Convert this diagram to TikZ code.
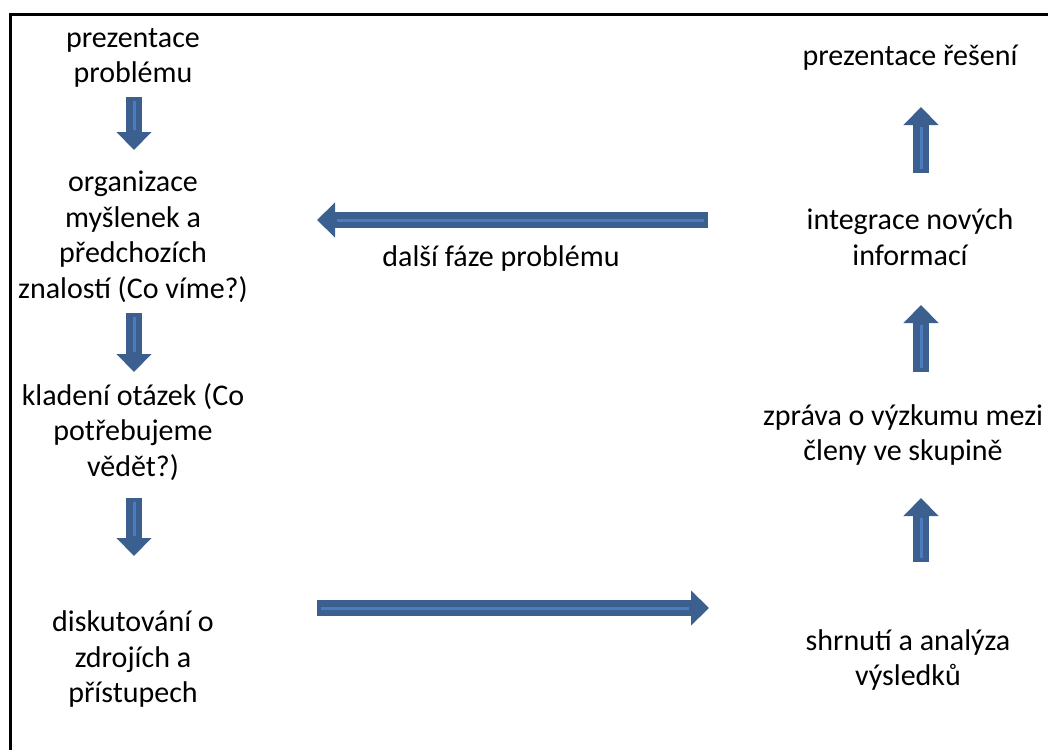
\documentclass[tikz,border=0pt]{standalone}
\usepackage{fontspec}
\setmainfont{Carlito}
\usetikzlibrary{arrows.meta,calc,positioning}
\definecolor{arrowBlue}{HTML}{3B5F8E}
\definecolor{arrowLight}{HTML}{4C7CBD}

\begin{document}
\begin{tikzpicture}[
  x=1pt, y=-1pt,
  line cap=butt,
  every node/.style={font=\fontsize{30}{35.5}\selectfont},
  txt/.style={align=center, inner sep=0pt},
  blockarrow/.style={draw=arrowBlue, line width=16pt, -{Triangle[width=34pt,length=18pt]}},
  % thin lighter stripe along the middle of the shaft
  arrowshine/.style={draw=arrowLight, line width=3pt, shorten <=4pt, shorten >=20pt},
  frame/.style={line width=3pt}
]
  \useasboundingbox (0,0) rectangle (1048,749);
  \draw[frame] (10,760) -- (10,15) -- (1060,15);

  % left column
  \node[txt] (problem) at (133,58) {prezentace\\problému};
  \node[txt] (ideas) at (133,237) {organizace\\myšlenek a\\předchozích\\znalostí (Co víme?)};
  \node[txt] (questions) at (133,432) {kladení otázek (Co\\potřebujeme\\vědět?)};
  \node[txt] (sources) at (133,659) {diskutování o\\zdrojích a\\přístupech};

  % right column
  \node[txt] (solution) at (910,58) {prezentace řešení};
  \node[txt] (integration) at (910,237) {integrace nových\\informací};
  \node[txt] (report) at (903,435) {zpráva o výzkumu mezi\\členy ve skupině};
  \node[txt] (summary) at (908,660) {shrnutí a analýza\\výsledků};

  \node[txt] (nextPhase) at (501,258) {další fáze problému};

  % arrow ends
  \coordinate (problemOut) at (134,97);
  \coordinate (ideasIn) at (134,150);
  \coordinate (ideasOut) at (134,313);
  \coordinate (questionsIn) at (134,372);
  \coordinate (questionsOut) at (134,498);
  \coordinate (sourcesIn) at (134,556);
  \coordinate (sourcesOut) at (317,608);
  \coordinate (summaryIn) at (709,608);
  \coordinate (summaryOut) at (921,562);
  \coordinate (reportIn) at (921,498);
  \coordinate (reportOut) at (921,372);
  \coordinate (integrationIn) at (921,305);
  \coordinate (integrationOut) at (921,173);
  \coordinate (solutionIn) at (921,107);
  \coordinate (loopOut) at (708,220);
  \coordinate (loopIn) at (317,220);

  \foreach \a/\b in {problemOut/ideasIn, ideasOut/questionsIn, questionsOut/sourcesIn,
                     sourcesOut/summaryIn, summaryOut/reportIn, reportOut/integrationIn,
                     integrationOut/solutionIn, loopOut/loopIn} {
    \draw[blockarrow] (\a) -- (\b);
    \draw[arrowshine] (\a) -- (\b);
  }
\end{tikzpicture}
\end{document}
